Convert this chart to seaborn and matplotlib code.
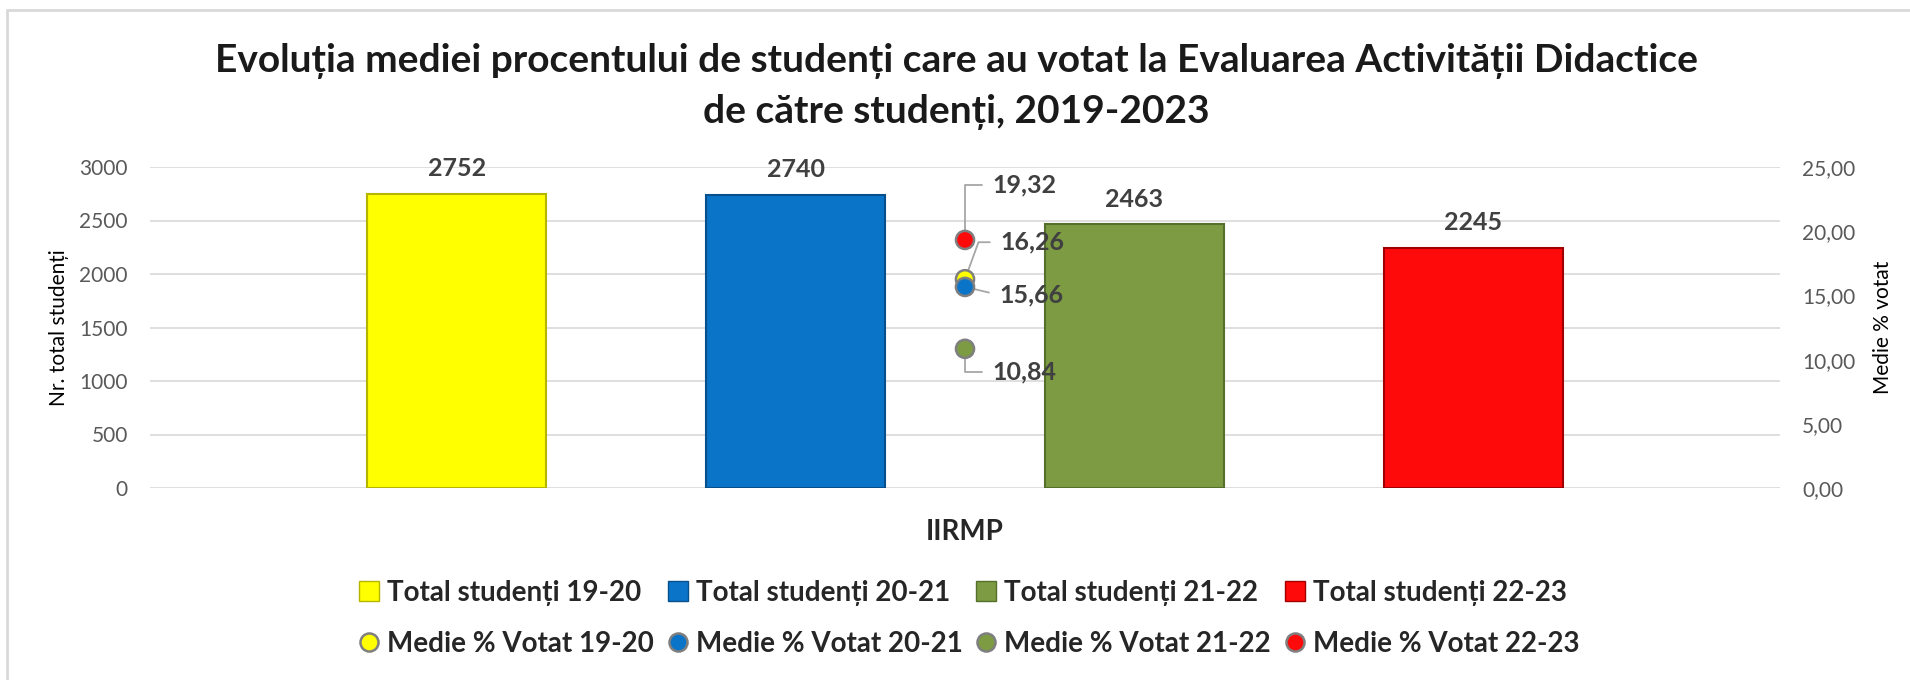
import pandas as pd
import seaborn as sns
import matplotlib.pyplot as plt
from matplotlib.lines import Line2D

grup = "IIRMP"
ani = ["19-20", "20-21", "21-22", "22-23"]
total_studenti = [2752, 2740, 2463, 2245]
medie_votat = [16.26, 15.66, 10.84, 19.32]
culori = ["#FFFF00", "#0A74C9", "#7C9B42", "#FF0A0A"]
margini = ["#B5B500", "#07508C", "#55702A", "#A00000"]

df = pd.DataFrame({"grup": grup, "an": ani, "total": total_studenti, "medie": medie_votat})

sns.set_style("white")
plt.rcParams["font.family"] = ["Lato", "DejaVu Sans"]

W, H = 1910, 680
fig = plt.figure(figsize=(W / 100, H / 100), dpi=100)
ax = fig.add_axes([150 / W, 1 - 488 / H, 1630 / W, 321 / H])

# bare - total studenti
sns.barplot(data=df, x="grup", y="total", hue="an", palette=culori, saturation=1,
            width=0.8, gap=0.47, legend=False, ax=ax)
for patch, m in zip(ax.patches, margini):
    patch.set_edgecolor(m)
    patch.set_linewidth(1.5)
for c in ax.containers:
    ax.bar_label(c, fmt="%d", padding=10, fontsize=18, fontweight="bold", color="#404040")

ax.set_xlim(-0.481, 0.481)
ax.set_ylim(0, 3000)
ax.set_yticks(range(0, 3001, 500))
ax.yaxis.grid(True, color="#d9d9d9", lw=1.2)
ax.set_axisbelow(True)
sns.despine(ax=ax, left=True, bottom=True)
ax.tick_params(axis="y", length=0, pad=16, labelsize=15, labelcolor="#595959")
ax.tick_params(axis="x", length=0, pad=22, labelsize=20)
for t in ax.get_xticklabels():
    t.set_fontweight("bold")
ax.set_xlabel("")
ax.set_ylabel("Nr. total studenți", fontsize=15, color="black", va="center")
ax.yaxis.set_label_coords(-0.0558, 0.5)

# axa secundara - medie % votat
ax2 = ax.twinx()
sns.scatterplot(data=df, x="grup", y="medie", hue="an", palette=culori, s=170,
                edgecolor="#7f7f7f", linewidth=1.8, legend=False, ax=ax2, zorder=5)
ax2.set_ylim(0, 25)
ax2.set_yticks(range(0, 26, 5))
ax2.set_yticklabels([f"{v:.2f}".replace(".", ",") for v in range(0, 26, 5)])
ax2.grid(False)
sns.despine(ax=ax2, left=True, bottom=True, right=True)
ax2.tick_params(axis="y", length=0, pad=16, labelsize=15, labelcolor="#595959")
ax2.set_ylabel("Medie % votat", fontsize=15, color="black", va="center")
ax2.yaxis.set_label_coords(1.063, 0.5)

pozitii = {
    "19-20": (35, 37, "angle,angleA=0,angleB=70"),
    "20-21": (34, -8, "arc3"),
    "21-22": (27, -23, "angle,angleA=0,angleB=90"),
    "22-23": (27, 55, "angle,angleA=0,angleB=90"),
}
for an, v in zip(ani, medie_votat):
    dx, dy, cs = pozitii[an]
    ax2.annotate(f"{v:.2f}".replace(".", ","), xy=(0, v), xytext=(dx, dy),
                 textcoords="offset pixels", ha="left", va="center",
                 fontsize=18, fontweight="bold", color="#404040", zorder=4,
                 arrowprops=dict(arrowstyle="-", color="#a6a6a6", lw=1.3,
                                 connectionstyle=cs, shrinkA=5, shrinkB=5,
                                 relpos=(0, 0.5)))

# legenda
handles, labels = [], []
for an, c, m in zip(ani, culori, margini):
    handles.append(Line2D([], [], marker="s", ls="", markersize=14,
                          markerfacecolor=c, markeredgecolor=m))
    labels.append(f"Total studenți {an}")
    handles.append(Line2D([], [], marker="o", ls="", markersize=13,
                          markerfacecolor=c, markeredgecolor="#7f7f7f", markeredgewidth=1.8))
    labels.append(f"Medie % Votat {an}")
fig.legend(handles, labels, ncol=4, loc="center", bbox_to_anchor=(968 / W, 1 - 618.5 / H),
           frameon=False, prop=dict(weight="bold", size=20), handlelength=0.9,
           handletextpad=0.2, columnspacing=0.4, labelspacing=0.9)

fig.text(956 / W, 1 - 86.5 / H,
         "Evoluția mediei procentului de studenți care au votat la Evaluarea Activității Didactice\n"
         "de către studenți, 2019-2023",
         ha="center", va="center", fontsize=28, fontweight="bold", color="#1a1a1a", linespacing=1.55)

# chenar
fig.add_artist(Line2D([7 / W, 7 / W], [0, 1 - 10 / H], color="#d9d9d9", lw=2))
fig.add_artist(Line2D([7 / W, 1], [1 - 10 / H, 1 - 10 / H], color="#d9d9d9", lw=2))

fig.savefig("out.png", dpi=100)
